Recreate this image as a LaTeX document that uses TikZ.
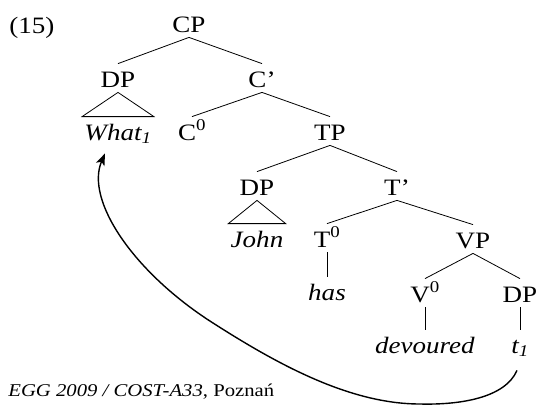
\documentclass[tikz,border=0pt]{standalone}
\usepackage{fontspec}
\setmainfont{Liberation Serif}[FakeStretch=1.15]
\usetikzlibrary{arrows.meta}

\tikzset{cat/.style={anchor=base, inner xsep=2pt, inner ysep=0pt, text height=23pt, text depth=5pt}}
% roof over a phrase
\newcommand{\roof}[2]{\draw (#1.south) -- (#2.north west) -- (#2.north east) -- cycle;}

\begin{document}
\begin{tikzpicture}[x=1pt, y=-1pt, font=\fontsize{23.5}{28}\selectfont, line width=0.8pt]
	\useasboundingbox (0,0) rectangle (536,405);
	\node[anchor=base west, inner sep=0] (exnum) at (9,33) {(15)};
	% the tree
	\node[cat] (cp) at (189,32) {CP};
	\node[cat] (dpa) at (118,87) {DP};
	\node[cat] (cbar) at (262,87) {C’};
	\node[cat] (what) at (118,140) {\textit{What\textsubscript{1}}};
	\node[cat] (czero) at (192,140) {C\textsuperscript{0}};
	\node[cat] (tp) at (330,140) {TP};
	\node[cat] (dpb) at (257,195) {DP};
	\node[cat] (tbar) at (397,195) {T’};
	\node[cat] (john) at (257,247) {\textit{John}};
	\node[cat] (tzero) at (327,247) {T\textsuperscript{0}};
	\node[cat] (vp) at (473,248) {VP};
	\node[cat] (has) at (327,300) {\textit{has}};
	\node[cat] (vzero) at (425,302) {V\textsuperscript{0}};
	\node[cat] (dpc) at (520,302) {DP};
	\node[cat] (devoured) at (425,353) {\textit{devoured}};
	\node[cat] (trace) at (520,353) {\textit{t\textsubscript{1}}};
	\draw (cp.south) -- (dpa.north);
	\draw (cp.south) -- (cbar.north);
	\draw (cbar.south) -- (czero.north);
	\draw (cbar.south) -- (tp.north);
	\draw (tp.south) -- (dpb.north);
	\draw (tp.south) -- (tbar.north);
	\draw (tbar.south) -- (tzero.north);
	\draw (tbar.south) -- (vp.north);
	\draw (vp.south) -- (vzero.north);
	\draw (vp.south) -- (dpc.north);
	\draw (tzero.south) -- (has.north);
	\draw (vzero.south) -- (devoured.north);
	\draw (dpc.south) -- (trace.north);
	\roof{dpa}{what}
	\roof{dpb}{john}
	% movement of the wh-phrase
	\draw[line width=1.4pt, -{Stealth[length=12pt, width=9pt, inset=3pt]}] ([shift={(-3,12)}]trace.south)
		.. controls (505,398) and (460,405) .. (420,404)
		.. controls (350,404) and (278,364.6) .. (213,323)
		.. controls (133,272) and (85,200) .. ([shift={(-13,8)}]what.south);
	\node[anchor=base west, inner sep=0, font=\fontsize{18}{21}\selectfont] (caption) at (8,396) {\textit{EGG 2009 / COST-A33}, Poznań};
\end{tikzpicture}
\end{document}
